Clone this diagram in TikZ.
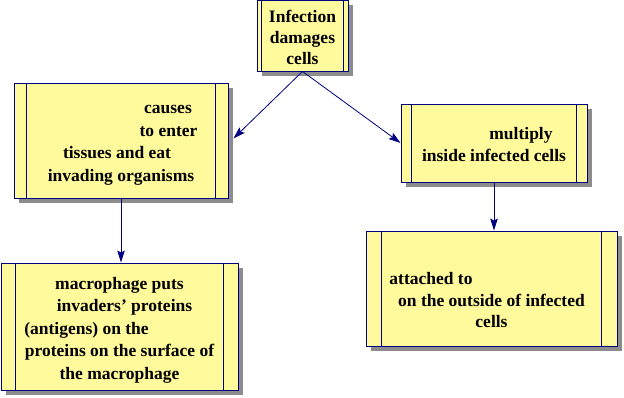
\documentclass[tikz,border=0pt]{standalone}
\usepackage{fontspec}
\setmainfont{Liberation Serif}
\usetikzlibrary{arrows.meta,shadows}
\definecolor{boxfill}{RGB}{255,250,155}
\definecolor{navyline}{RGB}{0,0,128}
\definecolor{shadowgray}{RGB}{140,140,140}
% centred lines of a box, lowered a little inside it
\newcommand{\boxlines}[2]{\raisebox{-#1}[\height][\depth]{\begin{tabular}{@{}c@{}}#2\end{tabular}}}

\begin{document}
\begin{tikzpicture}[x=1pt, y=1pt, >={Stealth[length=12pt,width=7.5pt,inset=2pt]},
  procbox/.style={draw=navyline, line width=0.9pt, fill=boxfill, inner sep=0pt,
    font=\fontsize{17.5}{22.5}\selectfont\rmfamily\bfseries,
    drop shadow={fill=shadowgray, opacity=1, shadow xshift=5pt, shadow yshift=-5pt}},
  link/.style={->, navyline, line width=0.8pt}]
\useasboundingbox (0,0) rectangle (624,397);

% ===== boxes =====
% top: the cause
\node[procbox, minimum width=91pt, minimum height=71pt,
  font=\fontsize{17.5}{21}\selectfont\rmfamily\bfseries] (infect) at (302.5,361.5)
  {\boxlines{4pt}{Infection\\damages\\cells}};
% left branch
\node[procbox, minimum width=214pt, minimum height=115pt] (macro) at (121,256.5)
  {\boxlines{2.5pt}{\hspace*{94pt}causes\\\hspace*{95pt}to enter\\tissues and eat\makebox[8pt]{}\\invading organisms}};
\node[procbox, minimum width=237pt, minimum height=127pt] (antigen) at (119.5,70.5)
  {\boxlines{3pt}{macrophage puts\\\hspace*{10pt}invaders' proteins\\(antigens) on the\makebox[66pt]{}\\proteins on the surface of\\the macrophage}};
% right branch
\node[procbox, minimum width=186pt, minimum height=78pt] (virus) at (494,254)
  {\boxlines{3pt}{\hspace*{54pt}multiply\\inside infected cells}};
\node[procbox, minimum width=251pt, minimum height=115pt,
  font=\fontsize{17.5}{21.5}\selectfont\rmfamily\bfseries] (killer) at (491.5,108.5)
  {\boxlines{13.5pt}{attached to\makebox[121pt]{}\\on the outside of infected\\cells}};

% double side bars of each box
\foreach \n/\g in {infect/5, macro/13, virus/11, antigen/15, killer/16} {
  \draw[navyline, line width=0.9pt] ([xshift=\g pt]\n.north west) -- ([xshift=\g pt]\n.south west);
  \draw[navyline, line width=0.9pt] ([xshift=-\g pt]\n.north east) -- ([xshift=-\g pt]\n.south east);
}

% ===== arrows =====
\draw[link] (infect.south) -- ([xshift=5pt,yshift=2pt]macro.east);
\draw[link] (infect.south) -- (virus.west);
\draw[link] (macro.south) -- (macro.south |- antigen.north);
\draw[link] (virus.south) -- (virus.south |- killer.north);
\end{tikzpicture}
\end{document}
